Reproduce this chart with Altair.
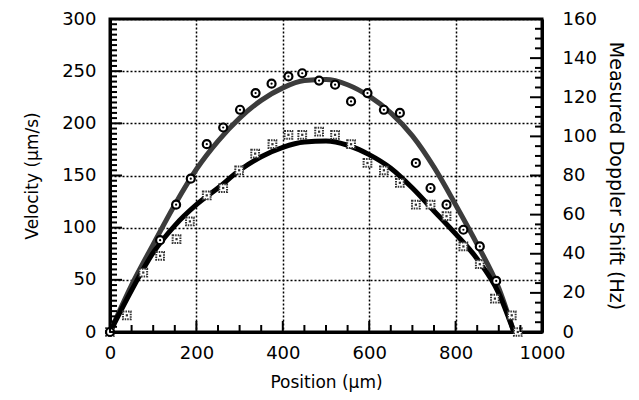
import altair as alt
import pandas as pd

# ---- data ----
circ_x = [0, 116, 153, 187, 224, 262, 301, 337, 374, 413, 445, 484, 521, 558, 596, 634, 671, 708, 742, 779, 818, 856, 894]
circ_y = [0, 88, 122, 147, 180, 196, 213, 229, 238, 245, 248, 241, 237, 221, 229, 213, 210, 162, 138, 122, 98, 82, 49]

sq_x = [0, 39, 77, 116, 154, 185, 224, 262, 299, 336, 376, 413, 445, 484, 521, 558, 596, 634, 671, 708, 742, 779, 818, 856, 891, 930, 944]
sq_y = [0, 16, 57, 73, 89, 106, 131, 138, 155, 171, 180, 189, 189, 192, 189, 180, 162, 155, 143, 122, 122, 111, 82, 65, 32, 16, 0]

fit_x = [0, 50, 100, 150, 200, 250, 300, 350, 400, 450, 500, 550, 600, 650, 700, 750, 800, 850, 900, 935]
upper_fit = [0, 45, 84, 122, 156, 183, 205, 222, 234, 241, 242, 237, 226, 210, 188, 158, 122, 84, 42, 0]
lower_fit = [0, 40, 76, 102, 122, 138, 155, 168, 177, 182, 183, 179, 170, 157, 138, 116, 94, 70, 37, 0]

x_labels = [0, 200, 400, 600, 800, 1000]
vel_labels = [0, 50, 100, 150, 200, 250, 300]
dop_labels = [0, 20, 40, 60, 80, 100, 120, 140, 160]

x_minor = list(range(0, 1001, 50))
vel_minor = list(range(0, 301, 5))
dop_minor = list(range(0, 161, 5))

W, H = 432, 313
FONT = "DejaVu Sans"

circ = pd.DataFrame({"x": circ_x, "v": circ_y})
sq = pd.DataFrame({"x": sq_x, "v": sq_y})
fits = pd.DataFrame({"x": fit_x + fit_x,
                     "v": upper_fit + lower_fit,
                     "s": ["upper"] * len(fit_x) + ["lower"] * len(fit_x)})

x_scale = alt.Scale(domain=[0, 1000], nice=False, zero=False)
v_scale = alt.Scale(domain=[0, 300], nice=False)
d_scale = alt.Scale(domain=[0, 160], nice=False)

x_axis = alt.Axis(values=x_labels, format="d", title="Position (μm)", grid=True, ticks=False, tickSize=0,
                  labelFlush=False, labelPadding=12, titlePadding=12, orient="bottom")
v_axis = alt.Axis(values=vel_labels, format="d", title="Velocity (μm/s)", grid=True, ticks=False, tickSize=0,
                  labelFlush=False, labelPadding=14, titlePadding=20, orient="left")
d_axis = alt.Axis(values=dop_labels, format="d", title="Measured Doppler Shift (Hz)", grid=False, ticks=False,
                  tickSize=0, labelFlush=False, labelPadding=20, titlePadding=9, orient="right",
                  titleFontSize=19)

def X(f="x"):
    return alt.X(f"{f}:Q", scale=x_scale, axis=x_axis)

def V(f="v"):
    return alt.Y(f"{f}:Q", scale=v_scale, axis=v_axis)

lines = alt.Chart(fits).mark_line(interpolate="monotone", strokeWidth=5).encode(
    x=X(), y=V(),
    color=alt.Color("s:N", scale=alt.Scale(domain=["upper", "lower"], range=["#3c3c3c", "#000000"]), legend=None),
    detail="s:N",
)

circ_pts = alt.Chart(circ).mark_point(shape="circle", filled=True, fill="white", stroke="black",
                                      strokeWidth=2.2, size=64, opacity=1).encode(x=X(), y=V())
circ_dot = alt.Chart(circ).mark_point(shape="circle", filled=True, color="black", size=5, opacity=1).encode(x=X(), y=V())
sq_pts = alt.Chart(sq).mark_point(shape="square", filled=True, fill="white", stroke="#333333",
                                  strokeWidth=2, strokeDash=[1.5, 1], size=60, opacity=1).encode(x=X(), y=V())
sq_dot = alt.Chart(sq).mark_point(shape="square", filled=True, color="#333333", size=5, opacity=1).encode(x=X(), y=V())

# inward ticks drawn through the scales (tick lengths converted from px to data units)
xu = 1000 / W
vu = 300 / H

xt = pd.DataFrame({"x": x_minor,
                   "y0": [0.0] * len(x_minor),
                   "y1": [(11 if t % 200 == 0 else 7) * vu for t in x_minor]})
x_ticks = alt.Chart(xt).mark_rule(color="black", strokeWidth=2).encode(
    x=X(), y=V("y0"), y2="y1:Q")

vt = pd.DataFrame({"v": vel_minor,
                   "x0": [0.0] * len(vel_minor),
                   "x1": [(12 if t % 50 == 0 else 7) * xu for t in vel_minor]})
v_ticks = alt.Chart(vt).mark_rule(color="black", strokeWidth=2).encode(
    y=V(), x=X("x0"), x2="x1:Q")

dt = pd.DataFrame({"d": dop_minor,
                   "x0": [1000.0] * len(dop_minor),
                   "x1": [1000 - (12 if t % 20 == 0 else 7) * xu for t in dop_minor]})
d_ticks = alt.Chart(dt).mark_rule(color="black", strokeWidth=2).encode(
    y=alt.Y("d:Q", scale=d_scale, axis=d_axis), x=X("x0"), x2="x1:Q")

vel_layer = alt.layer(lines, sq_pts, sq_dot, circ_pts, circ_dot, x_ticks, v_ticks)
dop_layer = alt.layer(d_ticks)

chart = alt.layer(vel_layer, dop_layer).resolve_scale(y="independent").properties(
    width=W, height=H,
    autosize=alt.AutoSizeParams(type="none"),
    padding={"left": 102, "top": 11, "right": 89, "bottom": 60},
    background="white",
).configure_view(
    stroke="black", strokeWidth=3
).configure_axis(
    domainColor="black", domainWidth=3,
    gridColor="black", gridDash=[2, 2], gridWidth=1.5, gridOpacity=1,
    labelFont=FONT, labelFontSize=18, labelColor="black",
    titleFont=FONT, titleFontSize=17, titleColor="black", titleFontWeight="normal",
)

chart.save("out.html", embed_options={"renderer": "svg", "actions": False})
